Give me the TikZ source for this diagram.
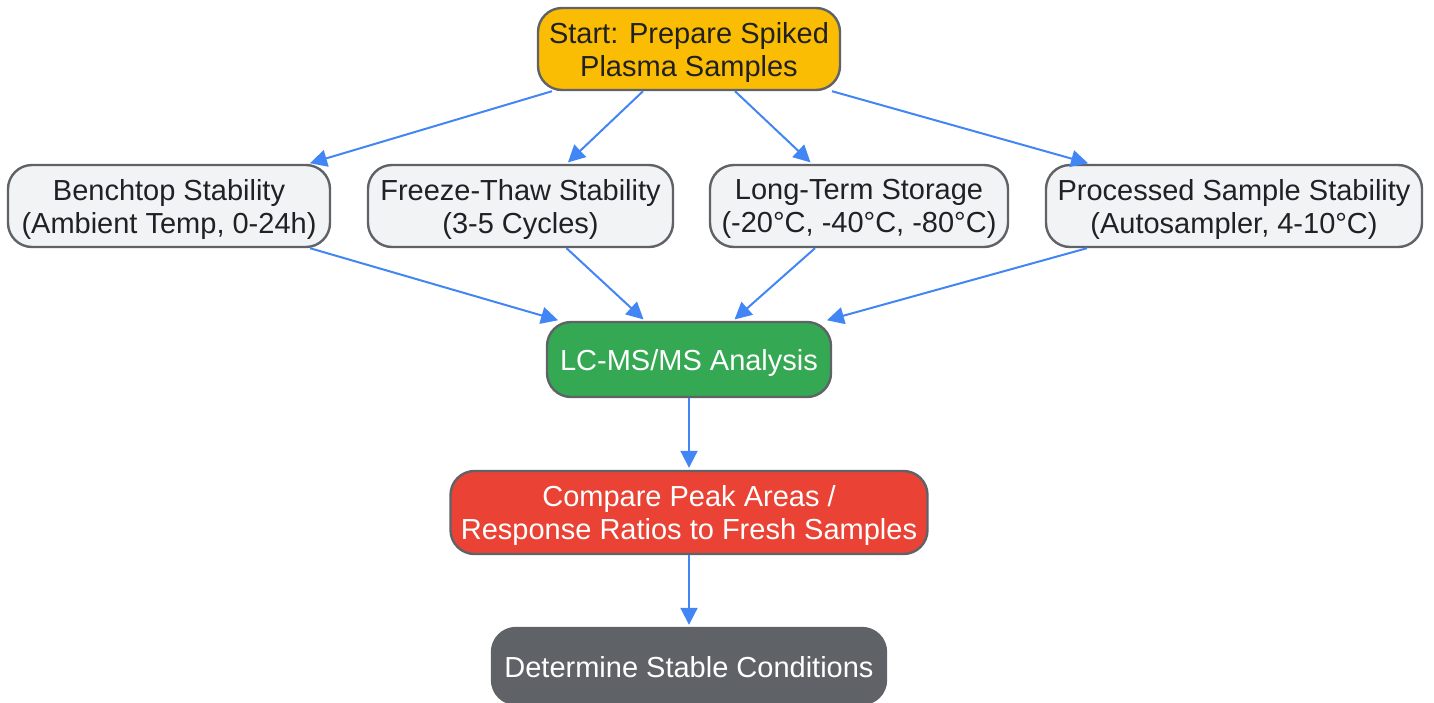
\documentclass[tikz,border=0pt]{standalone}
\usepackage{fontspec}
\setmainfont{Liberation Sans}
\usepackage{tikz}
\usetikzlibrary{positioning,arrows.meta,shapes}
\definecolor{edgeblue}{HTML}{4285F4}
\definecolor{boxgray}{HTML}{5F6368}
\definecolor{lightfill}{HTML}{F1F3F4}
\definecolor{startfill}{HTML}{FBBC04}
\definecolor{lcfill}{HTML}{34A853}
\definecolor{cmpfill}{HTML}{EA4335}
\definecolor{darktext}{HTML}{202124}
\tikzstyle{box} = [rectangle, rounded corners=12pt, draw=boxgray, line width=1.2pt, align=center, inner sep=2pt, font=\fontsize{14.5}{16.5}\selectfont, text=darktext]
\tikzstyle{oneline} = [box, text height=14pt, text depth=3pt]
\tikzstyle{twoline} = [box, text depth=0pt, minimum height=41pt]
\tikzstyle{cond} = [twoline, fill=lightfill]
\tikzstyle{arrow} = [draw=edgeblue, line width=1pt, -{Triangle[length=8.5pt,width=8.5pt]}, shorten >=1pt]

\begin{document}
\begin{tikzpicture}[x=0.5pt, y=-0.5pt]
    \useasboundingbox (0,0) rectangle (1434,702);
    \node[twoline, fill=startfill, minimum width=151pt] (start) at (689,49) {Start: Prepare Spiked\\Plasma Samples};
    \node[cond, minimum width=161pt] (bench) at (169,206) {Benchtop Stability\\(Ambient Temp, 0-24h)};
    \node[cond, minimum width=152.5pt] (freeze) at (520.5,206) {Freeze-Thaw Stability\\(3-5 Cycles)};
    \node[cond, minimum width=149pt] (longterm) at (859,206) {Long-Term Storage\\(-20°C, -40°C, -80°C)};
    \node[cond, minimum width=188pt] (processed) at (1234,206) {Processed Sample Stability\\(Autosampler, 4-10°C)};
    \node[oneline, fill=lcfill, text=white, minimum width=142pt, minimum height=37.5pt] (lcms) at (689,359.5) {LC-MS/MS Analysis};
    \node[twoline, fill=cmpfill, text=white, minimum width=238.5pt, minimum height=41.5pt] (compare) at (689,512.5) {Compare Peak Areas /\\Response Ratios to Fresh Samples};
    \node[oneline, fill=boxgray, text=white, minimum width=197pt, minimum height=38pt] (stable) at (689,666) {Determine Stable Conditions};
    \draw[arrow] ([xshift=-68.5pt]start.south) -- ([xshift=69.5pt]bench.north);
    \draw[arrow] ([xshift=-23pt]start.south) -- ([xshift=23pt]freeze.north);
    \draw[arrow] ([xshift=23pt]start.south) -- ([xshift=-23.5pt]longterm.north);
    \draw[arrow] ([xshift=71.5pt]start.south) -- ([xshift=-72pt]processed.north);
    \draw[arrow] ([xshift=70.5pt]bench.south) -- ([xshift=-64.5pt]lcms.north);
    \draw[arrow] ([xshift=23pt]freeze.south) -- ([xshift=-22pt]lcms.north);
    \draw[arrow] ([xshift=-22pt]longterm.south) -- ([xshift=22pt]lcms.north);
    \draw[arrow] ([xshift=-73.5pt]processed.south) -- ([xshift=68pt]lcms.north);
    \draw[arrow] (lcms) -- (compare);
    \draw[arrow] (compare) -- (stable);
    % \draw[edgeblue, dashed] (lcms) -- (stable);
\end{tikzpicture}
\end{document}
